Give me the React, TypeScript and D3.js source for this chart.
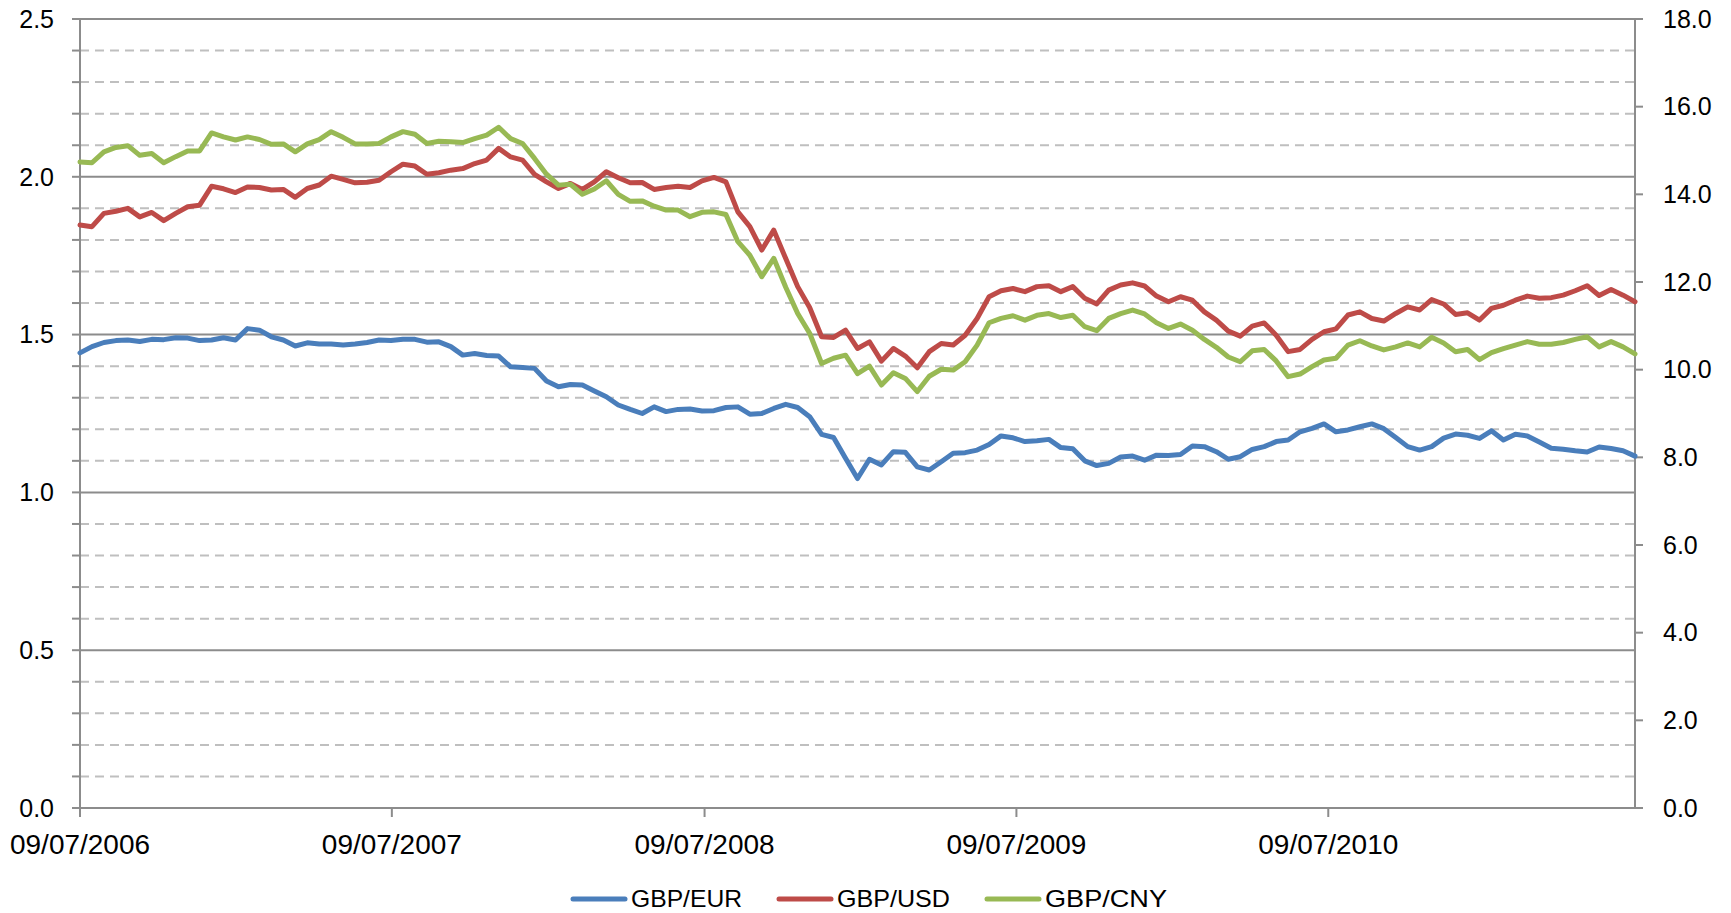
import { useEffect, useRef } from "react"
import * as d3 from "d3"

// fortnightly samples starting 09/07/2006
const startDate = new Date(Date.UTC(2006, 6, 9))
const stepDays = 14

const eurValues = [
  1.442, 1.462, 1.475, 1.481, 1.483, 1.478, 1.485, 1.484, 1.49, 1.489, 1.481, 1.483, 1.49, 1.483, 1.519, 1.514, 1.493,
  1.483, 1.464, 1.474, 1.47, 1.47, 1.467, 1.47, 1.475, 1.483, 1.481,
  1.485, 1.485, 1.476, 1.477, 1.462, 1.435, 1.44, 1.434, 1.432, 1.398, 1.396, 1.393, 1.353, 1.335, 1.342, 1.34, 1.321,
  1.303, 1.277, 1.263, 1.25, 1.271, 1.256, 1.263, 1.264, 1.258,
  1.259, 1.269, 1.271, 1.248, 1.25, 1.266, 1.279, 1.269, 1.24, 1.184, 1.174, 1.108, 1.044, 1.105, 1.087, 1.129, 1.127,
  1.081, 1.071, 1.097, 1.124, 1.126, 1.134, 1.152, 1.179, 1.173,
  1.161, 1.164, 1.168, 1.142, 1.138, 1.1, 1.085, 1.092, 1.112, 1.115, 1.102, 1.118, 1.117, 1.12, 1.147, 1.145, 1.129,
  1.105, 1.113, 1.136, 1.145, 1.161, 1.166, 1.192, 1.203, 1.217,
  1.192, 1.198, 1.208, 1.217, 1.202, 1.174, 1.145, 1.134, 1.145, 1.172, 1.185, 1.181, 1.171, 1.195, 1.166, 1.184, 1.179,
  1.16, 1.14, 1.137, 1.132, 1.128, 1.144, 1.139, 1.132, 1.115,
]

const usdValues = [
  1.847, 1.842, 1.884, 1.891, 1.9, 1.873, 1.887, 1.861, 1.884, 1.905, 1.91, 1.97, 1.962, 1.95, 1.968, 1.966, 1.958, 1.96,
  1.935, 1.963, 1.974, 2.002, 1.992, 1.981, 1.983, 1.989, 2.016,
  2.04, 2.034, 2.008, 2.013, 2.021, 2.026, 2.042, 2.053, 2.09, 2.063, 2.053, 2.008, 1.984, 1.963, 1.979, 1.96, 1.984,
  2.016, 1.997, 1.981, 1.982, 1.96, 1.966, 1.97, 1.966, 1.987,
  1.998, 1.984, 1.889, 1.842, 1.768, 1.831, 1.741, 1.652, 1.586, 1.493, 1.491, 1.514, 1.456, 1.477, 1.416, 1.456, 1.432,
  1.395, 1.446, 1.472, 1.467, 1.498, 1.551, 1.62, 1.639, 1.646,
  1.636, 1.652, 1.655, 1.636, 1.652, 1.615, 1.597, 1.641, 1.657, 1.664, 1.654, 1.622, 1.604, 1.62, 1.609, 1.572, 1.546,
  1.511, 1.495, 1.527, 1.537, 1.498, 1.446, 1.453, 1.485, 1.509,
  1.518, 1.562, 1.572, 1.551, 1.543, 1.567, 1.588, 1.578, 1.611, 1.597, 1.564, 1.569, 1.546, 1.583, 1.593, 1.609, 1.622,
  1.615, 1.617, 1.625, 1.639, 1.655, 1.624, 1.643, 1.625, 1.604,
]

const cnyValues = [
  14.74, 14.72, 14.97, 15.07, 15.11, 14.89, 14.93, 14.72, 14.86, 14.99, 14.99, 15.4, 15.31, 15.24, 15.31, 15.25, 15.14,
  15.15, 14.97, 15.15, 15.25, 15.43, 15.3, 15.15, 15.15, 15.16, 15.31,
  15.43, 15.37, 15.16, 15.21, 15.2, 15.18, 15.27, 15.35, 15.53, 15.27, 15.16, 14.82, 14.46, 14.21, 14.23, 14.0, 14.12,
  14.31, 14.0, 13.84, 13.85, 13.73, 13.64, 13.64, 13.49, 13.59,
  13.6, 13.54, 12.92, 12.61, 12.12, 12.54, 11.88, 11.28, 10.83, 10.14, 10.26, 10.33, 9.91, 10.08, 9.65, 9.93, 9.8, 9.5,
  9.85, 10.01, 9.99, 10.18, 10.56, 11.07, 11.17, 11.23,
  11.13, 11.24, 11.28, 11.19, 11.24, 10.98, 10.89, 11.17, 11.28, 11.36, 11.27, 11.07, 10.94, 11.04, 10.9, 10.69, 10.51,
  10.29, 10.18, 10.43, 10.46, 10.2, 9.84, 9.9, 10.07, 10.22,
  10.26, 10.56, 10.66, 10.54, 10.45, 10.52, 10.61, 10.52, 10.74, 10.61, 10.41, 10.46, 10.23, 10.39, 10.48, 10.56, 10.64,
  10.58, 10.58, 10.62, 10.69, 10.75, 10.52, 10.64, 10.52, 10.36,
]

const seriesNames = ["GBP/EUR", "GBP/USD", "GBP/CNY"]
const seriesColors = ["#4a7ebb", "#be4b48", "#98b954"]
const xTickDates = ["2006-07-09", "2007-07-09", "2008-07-09", "2009-07-09", "2010-07-09"]
const leftTicks = [0, 0.5, 1.0, 1.5, 2.0, 2.5]
const rightTicks = [0, 2, 4, 6, 8, 10, 12, 14, 16, 18]

const W = 1731
const H = 913
const FONT = "'Liberation Sans', Arial, sans-serif"

export default function App() {
  const svgRef = useRef<SVGSVGElement>(null)

  useEffect(() => {
    if (!svgRef.current) return
    const svg = d3.select(svgRef.current)
    svg.selectAll("*").remove()

    const left = 80
    const right = 1635
    const top = 19
    const bottom = 808

    const dates = eurValues.map((_, i) => d3.utcDay.offset(startDate, i * stepDays))

    const x = d3
      .scaleUtc()
      .domain([dates[0], dates[dates.length - 1]])
      .range([left, right])
    const yL = d3.scaleLinear().domain([0, 2.5]).range([bottom, top])
    const yR = d3.scaleLinear().domain([0, 18]).range([bottom, top])

    // gridlines
    const minor = d3.range(1, 26).map((i) => i / 10)
    svg
      .append("g")
      .selectAll("line")
      .data(minor.filter((v) => Math.round(v * 10) % 5 !== 0))
      .enter()
      .append("line")
      .attr("x1", left)
      .attr("x2", right)
      .attr("y1", (d) => yL(d))
      .attr("y2", (d) => yL(d))
      .attr("stroke", "#bfbfbf")
      .attr("stroke-width", 2)
      .attr("stroke-dasharray", "9,6")

    svg
      .append("g")
      .selectAll("line")
      .data(leftTicks.filter((v) => v > 0))
      .enter()
      .append("line")
      .attr("x1", left)
      .attr("x2", right)
      .attr("y1", (d) => yL(d))
      .attr("y2", (d) => yL(d))
      .attr("stroke", "#8c8c8c")
      .attr("stroke-width", 2)

    // axes lines & ticks
    const axisColor = "#8c8c8c"
    const ax = svg.append("g").attr("stroke", axisColor).attr("stroke-width", 2)
    ax.append("line").attr("x1", left).attr("x2", left).attr("y1", top).attr("y2", bottom + 9)
    ax.append("line").attr("x1", right).attr("x2", right).attr("y1", top).attr("y2", bottom)
    ax.append("line").attr("x1", left).attr("x2", right).attr("y1", bottom).attr("y2", bottom)
    ax.selectAll(".lt")
      .data([0, ...minor])
      .enter()
      .append("line")
      .attr("x1", left - 8)
      .attr("x2", left)
      .attr("y1", (d) => yL(d))
      .attr("y2", (d) => yL(d))
    ax.selectAll(".rt")
      .data(rightTicks)
      .enter()
      .append("line")
      .attr("x1", right)
      .attr("x2", right + 8)
      .attr("y1", (d) => yR(d))
      .attr("y2", (d) => yR(d))
    const tickDates = xTickDates.map((s) => new Date(s + "T00:00:00Z"))
    ax.selectAll(".xt")
      .data(tickDates)
      .enter()
      .append("line")
      .attr("x1", (d) => x(d))
      .attr("x2", (d) => x(d))
      .attr("y1", bottom)
      .attr("y2", bottom + 9)

    // tick labels
    svg
      .append("g")
      .selectAll("text")
      .data(leftTicks)
      .enter()
      .append("text")
      .attr("x", left - 26)
      .attr("y", (d) => yL(d))
      .attr("dy", "0.35em")
      .attr("text-anchor", "end")
      .attr("font-family", FONT)
      .attr("font-size", 25)
      .attr("fill", "#000")
      .text((d) => d.toFixed(1))

    svg
      .append("g")
      .selectAll("text")
      .data(rightTicks)
      .enter()
      .append("text")
      .attr("x", right + 28)
      .attr("y", (d) => yR(d))
      .attr("dy", "0.35em")
      .attr("text-anchor", "start")
      .attr("font-family", FONT)
      .attr("font-size", 25)
      .attr("fill", "#000")
      .text((d) => d.toFixed(1))

    const fmt = d3.utcFormat("%d/%m/%Y")
    svg
      .append("g")
      .selectAll("text")
      .data(tickDates)
      .enter()
      .append("text")
      .attr("x", (d) => x(d))
      .attr("y", 854)
      .attr("text-anchor", "middle")
      .attr("font-family", FONT)
      .attr("font-size", 27)
      .attr("textLength", 140)
      .attr("lengthAdjust", "spacingAndGlyphs")
      .attr("fill", "#000")
      .text((d) => fmt(d))

    // series
    const series = [
      { values: eurValues, y: yL },
      { values: usdValues, y: yL },
      { values: cnyValues, y: yR },
    ]
    series.forEach((s, k) => {
      const line = d3
        .line<number>()
        .x((_, i) => x(dates[i]))
        .y((d) => s.y(d))
      svg
        .append("path")
        .datum(s.values)
        .attr("fill", "none")
        .attr("stroke", seriesColors[k])
        .attr("stroke-width", 5)
        .attr("stroke-linejoin", "round")
        .attr("stroke-linecap", "round")
        .attr("d", line)
    })

    // legend
    const textWidths = [111, 113, 122]
    let lx = 571
    const lg = svg.append("g")
    seriesNames.forEach((name, k) => {
      lg.append("line")
        .attr("x1", lx + 2)
        .attr("x2", lx + 54)
        .attr("y1", 899)
        .attr("y2", 899)
        .attr("stroke", seriesColors[k])
        .attr("stroke-width", 5)
        .attr("stroke-linecap", "round")
      lg.append("text")
        .attr("x", lx + 60)
        .attr("y", 907)
        .attr("font-family", FONT)
        .attr("font-size", 24)
        .attr("textLength", textWidths[k])
        .attr("lengthAdjust", "spacingAndGlyphs")
        .attr("fill", "#000")
        .text(name)
      lx = lx + 60 + textWidths[k] + 35
    })
  }, [])

  return (
    <svg
      ref={svgRef}
      width={W}
      height={H}
      style={{ position: "absolute", left: 0, top: 0, display: "block", background: "#fff" }}
    />
  )
}
